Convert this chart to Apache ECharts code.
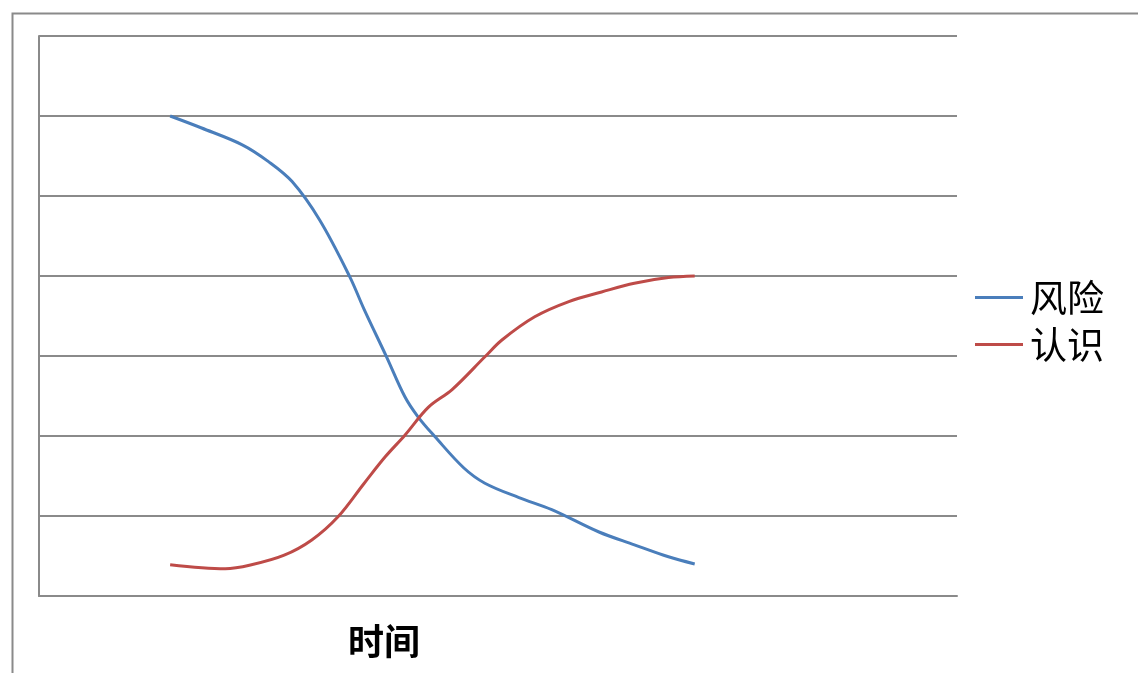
<!DOCTYPE html>
<html><head><meta charset="utf-8">
<script src="https://cdn.jsdelivr.net/npm/echarts@6/dist/echarts.min.js"></script>
<style>html,body{margin:0;padding:0;background:#fff}#c{width:1138px;height:673px}</style>
</head><body><div id="c"></div>
<script>
const seriesNames = ['风险', '认识'];
const xAxisTitle = '时间';
const riskX = [1.0, 1.24, 1.55, 1.75, 1.93, 2.14, 2.37, 2.48, 2.65, 2.79, 2.89, 3.02, 3.24, 3.40, 3.66, 3.91, 4.27, 4.54, 4.80, 5.0];
const riskY = [6.0, 5.85, 5.64, 5.43, 5.18, 4.70, 3.99, 3.58, 2.99, 2.49, 2.24, 1.99, 1.60, 1.41, 1.23, 1.08, 0.80, 0.64, 0.49, 0.40];
const awareX = [1.0, 1.42, 1.62, 1.87, 2.08, 2.28, 2.48, 2.64, 2.79, 2.97, 3.15, 3.40, 3.53, 3.78, 4.04, 4.29, 4.54, 4.80, 5.0];
const awareY = [0.39, 0.34, 0.39, 0.51, 0.70, 0.99, 1.41, 1.74, 2.01, 2.36, 2.58, 2.99, 3.20, 3.49, 3.68, 3.80, 3.91, 3.98, 4.0];

const zip = (xs, ys) => xs.map((x, i) => [x, ys[i]]);
const chart = echarts.init(document.getElementById('c'), null, {renderer: 'canvas'});
chart.setOption({
  animation: false,
  backgroundColor: '#fff',
  grid: {left: 39, top: 36, right: 181, bottom: 77, containLabel: false},
  title: {
    text: xAxisTitle, left: 343, top: 618,
    textStyle: {fontFamily: 'Noto Sans CJK SC', fontWeight: 'bold', fontSize: 36, color: '#000'}
  },
  legend: {
    orient: 'vertical', left: 970, top: 274, itemGap: 10,
    icon: 'rect', itemWidth: 48, itemHeight: 3,
    textStyle: {fontFamily: 'Noto Sans CJK SC', fontSize: 37, color: '#000', padding: [0, 0, 0, 2]},
    data: seriesNames
  },
  xAxis: {
    type: 'value', min: 0, max: 7, interval: 1,
    axisLine: {show: true, lineStyle: {color: '#8a8a8a', width: 2}},
    axisTick: {show: false}, axisLabel: {show: false}, splitLine: {show: false}
  },
  yAxis: {
    type: 'value', min: 0, max: 7, interval: 1,
    axisLine: {show: true, lineStyle: {color: '#8a8a8a', width: 2}},
    axisTick: {show: false}, axisLabel: {show: false},
    splitLine: {show: true, lineStyle: {color: '#8a8a8a', width: 2}}
  },
  graphic: [{
    type: 'rect', left: 10, top: 11, silent: true,
    shape: {width: 1200, height: 700},
    style: {fill: 'none', stroke: '#8a8a8a', lineWidth: 2}
  }],
  series: [
    {name: seriesNames[0], type: 'line', data: zip(riskX, riskY), smooth: 0.35, showSymbol: false,
     lineStyle: {color: '#4a7ebb', width: 3}, itemStyle: {color: '#4a7ebb'}},
    {name: seriesNames[1], type: 'line', data: zip(awareX, awareY), smooth: 0.35, showSymbol: false,
     lineStyle: {color: '#be4b48', width: 3}, itemStyle: {color: '#be4b48'}}
  ]
});
</script></body></html>
